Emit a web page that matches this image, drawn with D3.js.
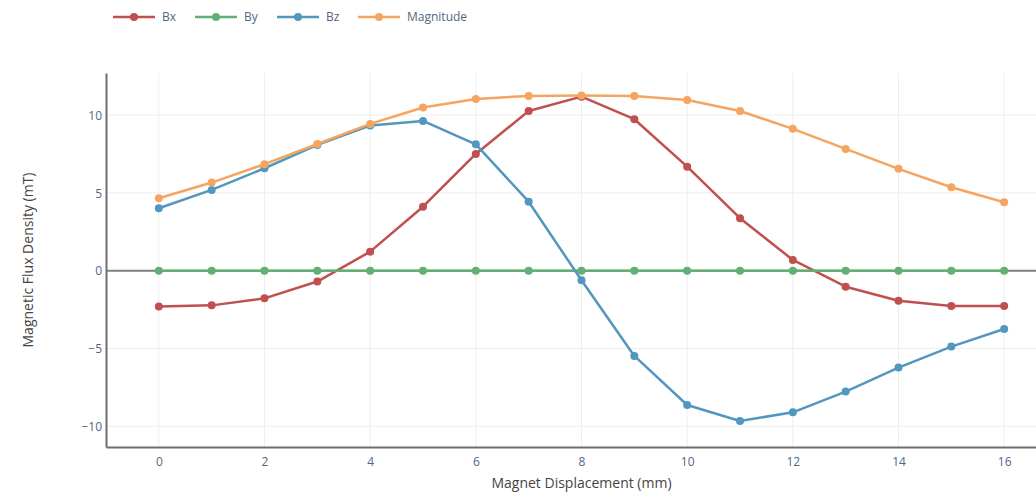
<!DOCTYPE html>
<html>
<head>
<meta charset="utf-8">
<script src="https://cdn.jsdelivr.net/npm/d3@7"></script>
<style>
  html, body { margin: 0; padding: 0; background: #fff; overflow: hidden; }
  svg { display: block; font-family: "Open Sans", "Noto Sans", sans-serif; }
</style>
</head>
<body>
<svg id="chart"></svg>
<script>
// Displacement positions (mm)
const displacement = [0, 1, 2, 3, 4, 5, 6, 7, 8, 9, 10, 11, 12, 13, 14, 15, 16];

// Flux density components (mT)
const bx = [-2.31, -2.23, -1.78, -0.70, 1.22, 4.11, 7.50, 10.26, 11.18, 9.73, 6.68, 3.37, 0.69, -1.03, -1.93, -2.27, -2.27];
const by = [0, 0, 0, 0, 0, 0, 0, 0, 0, 0, 0, 0, 0, 0, 0, 0, 0];
const bz = [4.01, 5.19, 6.58, 8.08, 9.32, 9.62, 8.12, 4.43, -0.62, -5.48, -8.63, -9.66, -9.10, -7.77, -6.23, -4.88, -3.75];
const magnitude = [4.65, 5.66, 6.84, 8.14, 9.43, 10.48, 11.03, 11.23, 11.25, 11.23, 10.97, 10.26, 9.11, 7.82, 6.54, 5.36, 4.40];

const seriesNames = ['Bx', 'By', 'Bz', 'Magnitude'];
const seriesColors = ['#c0504f', '#62b073', '#5297bd', '#f5a55f'];
const xTicks = [0, 2, 4, 6, 8, 10, 12, 14, 16];
const yTicks = [-10, -5, 0, 5, 10];

const series = [bx, by, bz, magnitude].map((vals, i) => ({
  name: seriesNames[i],
  color: seriesColors[i],
  points: vals.map((v, j) => ({ x: displacement[j], y: v }))
}));

const config = {
  width: 1070,
  height: 493,
  margin: { top: 73, right: 13, bottom: 46, left: 106 }
};
const width = config.width - config.margin.left - config.margin.right;
const height = config.height - config.margin.top - config.margin.bottom;

const svg = d3.select('#chart')
  .attr('width', config.width)
  .attr('height', config.height);

const g = svg.append('g')
  .attr('transform', `translate(${config.margin.left},${config.margin.top})`);

const xScale = d3.scaleLinear().domain([-1, 17]).range([0, width]);
const yScale = d3.scaleLinear().domain([-11.33, 12.7]).range([height, 0]);

// Grid lines
g.append('g')
  .selectAll('line')
  .data(xTicks)
  .join('line')
  .attr('x1', d => xScale(d)).attr('x2', d => xScale(d))
  .attr('y1', 0).attr('y2', height)
  .attr('stroke', '#eeeeee').attr('stroke-width', 1);

g.append('g')
  .selectAll('line')
  .data(yTicks.filter(d => d !== 0))
  .join('line')
  .attr('x1', 0).attr('x2', width)
  .attr('y1', d => yScale(d)).attr('y2', d => yScale(d))
  .attr('stroke', '#eeeeee').attr('stroke-width', 1);

// Zero line
g.append('line')
  .attr('x1', 0).attr('x2', width)
  .attr('y1', yScale(0)).attr('y2', yScale(0))
  .attr('stroke', '#7f7f7f').attr('stroke-width', 2);

// Axes
const xAxis = g.append('g')
  .attr('transform', `translate(0,${height})`)
  .call(d3.axisBottom(xScale).tickValues(xTicks).tickSize(0).tickPadding(10));
const yAxis = g.append('g')
  .call(d3.axisLeft(yScale).tickValues(yTicks).tickSize(0).tickPadding(4)
    .tickFormat(d => d < 0 ? '\u2212' + Math.abs(d) : d));

[xAxis, yAxis].forEach(ax => {
  ax.select('.domain').attr('stroke', '#6f6f6f').attr('stroke-width', 2);
  ax.selectAll('text')
    .attr('fill', '#506784')
    .style('font-size', '12px')
    .style('font-family', '"Open Sans", sans-serif');
});
yAxis.selectAll('text').attr('dy', '0.35em');

// Axis titles
svg.append('text')
  .attr('x', config.margin.left + xScale(8))
  .attr('y', 488)
  .attr('text-anchor', 'middle')
  .attr('fill', '#444')
  .style('font-size', '14px')
  .text('Magnet Displacement (mm)');

svg.append('text')
  .attr('transform', `translate(33,${config.margin.top + height / 2}) rotate(-90)`)
  .attr('text-anchor', 'middle')
  .attr('fill', '#444')
  .style('font-size', '14px')
  .text('Magnetic Flux Density (mT)');

// Lines and markers
const line = d3.line()
  .x(d => xScale(d.x))
  .y(d => yScale(d.y));

const traces = g.selectAll('.trace')
  .data(series)
  .join('g')
  .attr('class', 'trace');

traces.append('path')
  .attr('d', d => line(d.points))
  .attr('fill', 'none')
  .attr('stroke', d => d.color)
  .attr('stroke-width', 2.5)
  .attr('stroke-linejoin', 'round');

traces.selectAll('circle')
  .data(d => d.points.map(p => ({ ...p, color: d.color })))
  .join('circle')
  .attr('cx', d => xScale(d.x))
  .attr('cy', d => yScale(d.y))
  .attr('r', 4)
  .attr('fill', d => d.color);

// Legend
const legendX = [113, 195, 277, 358];
const legend = svg.append('g')
  .selectAll('g')
  .data(series)
  .join('g')
  .attr('transform', (d, i) => `translate(${legendX[i]},17)`);

legend.append('line')
  .attr('x1', 0).attr('x2', 42)
  .attr('stroke', d => d.color)
  .attr('stroke-width', 2.5);
legend.append('circle')
  .attr('cx', 21).attr('r', 4)
  .attr('fill', d => d.color);
legend.append('text')
  .attr('x', 49)
  .attr('dy', '0.35em')
  .attr('fill', '#506784')
  .style('font-size', '12px')
  .text(d => d.name);
</script>
</body>
</html>
